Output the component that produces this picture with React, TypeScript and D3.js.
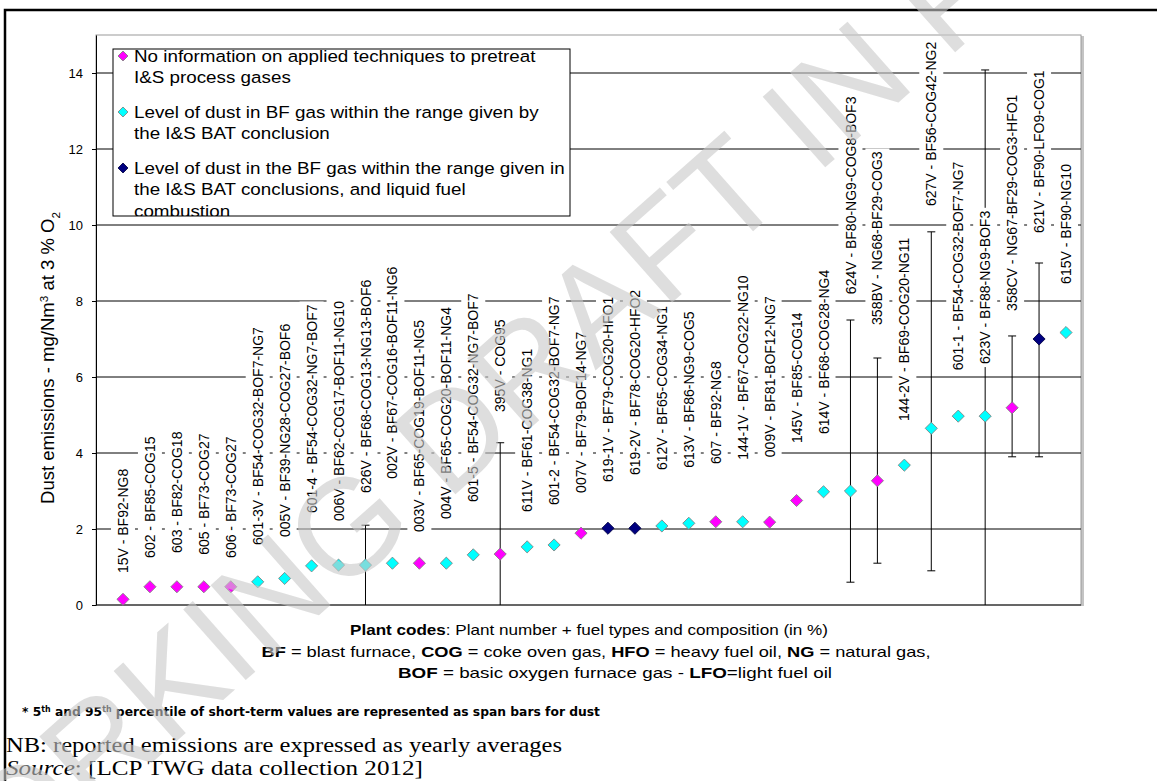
import React, { useEffect, useRef } from 'react';
import * as d3 from 'd3';

// Plant codes, in the order shown on the chart
const plants = [
  '15V - BF92-NG8', '602 - BF85-COG15', '603 - BF82-COG18', '605 - BF73-COG27', '606 - BF73-COG27',
  '601-3V - BF54-COG32-BOF7-NG7', '005V - BF39-NG28-COG27-BOF6', '601-4 - BF54-COG32-NG7-BOF7',
  '006V - BF62-COG17-BOF11-NG10', '626V - BF68-COG13-NG13-BOF6', '002V - BF67-COG16-BOF11-NG6',
  '003V - BF65-COG19-BOF11-NG5', '004V - BF65-COG20-BOF11-NG4', '601-5 - BF54-COG32-NG7-BOF7',
  '395V - COG95', '611V - BF61-COG38-NG1', '601-2 - BF54-COG32-BOF7-NG7', '007V - BF79-BOF14-NG7',
  '619-1V - BF79-COG20-HFO1', '619-2V - BF78-COG20-HFO2', '612V - BF65-COG34-NG1', '613V - BF86-NG9-COG5',
  '607 - BF92-NG8', '144-1V - BF67-COG22-NG10', '009V - BF81-BOF12-NG7', '145V - BF85-COG14',
  '614V - BF68-COG28-NG4', '624V - BF80-NG9-COG8-BOF3', '358BV - NG68-BF29-COG3', '144-2V - BF69-COG20-NG11',
  '627V - BF56-COG42-NG2', '601-1 - BF54-COG32-BOF7-NG7', '623V - BF88-NG9-BOF3', '358CV - NG67-BF29-COG3-HFO1',
  '621V - BF90-LFO9-COG1', '615V - BF90-NG10',
];

// yearly average dust, mg/Nm3 at 3 % O2
const dust = [
  0.15, 0.48, 0.48, 0.48, 0.48, 0.61, 0.7, 1.03, 1.05, 1.05, 1.1, 1.1, 1.1, 1.32, 1.34, 1.53, 1.58, 1.89,
  2.02, 2.02, 2.08, 2.15, 2.19, 2.19, 2.18, 2.75, 2.98, 3.0, 3.27, 3.68, 4.65, 4.97, 4.97, 5.19, 7.0, 7.17,
];

// n = no information, b = within BAT range, l = within BAT range + liquid fuel
const group = [
  'n', 'n', 'n', 'n', 'n', 'b', 'b', 'b', 'b', 'b', 'b', 'n', 'b', 'b', 'n', 'b', 'b', 'n',
  'l', 'l', 'b', 'b', 'n', 'b', 'n', 'n', 'b', 'b', 'n', 'b', 'b', 'b', 'b', 'n', 'l', 'b',
];

// 5th / 95th percentile span bars (null = not reported)
const spanLow: (number | null)[] = [
  null, null, null, null, null, null, null, null, null, 0, null, null, null, null, 0, null, null, null,
  null, null, null, null, null, null, null, null, null, 0.6, 1.1, null, 0.9, null, 0, 3.9, 3.9, null,
];
const spanHigh: (number | null)[] = [
  null, null, null, null, null, null, null, null, null, 2.1, null, null, null, null, 4.27, null, null, null,
  null, null, null, null, null, null, null, null, null, 7.5, 6.5, null, 9.82, null, 14.08, 7.08, 9.0, null,
];

// where each plant label starts (value on the y axis)
const labelBase = [
  0.84, 1.24, 1.37, 1.32, 1.24, 1.58, 1.79, 2.42, 2.21, 2.95, 3.32, 1.92, 2.26, 2.71, 5.08, 2.45, 2.63, 2.95,
  3.24, 3.42, 3.55, 3.61, 3.71, 3.82, 3.89, 4.26, 4.5, 8.18, 7.37, 4.84, 10.5, 6.18, 6.34, 7.74, 9.79, 8.45,
];

const yTicks = [0, 2, 4, 6, 8, 10, 12, 14];

const groupColor: Record<string, string> = { n: '#ff00ff', b: '#00ffff', l: '#000080' };
const groupStroke: Record<string, string> = { n: '#7f7f7f', b: '#7f7f7f', l: '#000040' };

const legendGroups = ['n', 'b', 'l'];
const legendLines = [
  ['No information on applied techniques to pretreat', 'I&S process gases'],
  ['Level of dust in BF gas within the range given by', 'the I&S BAT conclusion'],
  ['Level of dust in the BF gas within the range given in', 'the I&S BAT conclusions, and liquid fuel', 'combustion'],
];

const SANS = 'Arial, "Liberation Sans", sans-serif';
const SERIF = '"Times New Roman", "Liberation Serif", Times, "Noto Serif", serif';

export default function App() {
  const ref = useRef<SVGSVGElement | null>(null);

  useEffect(() => {
    const svg = d3.select(ref.current);
    svg.selectAll('*').remove();

    const m = { left: 96, right: 1081, top: 35, bottom: 605 };
    const y = d3.scaleLinear().domain([0, 15]).range([m.bottom, m.top]);
    const x = d3.scalePoint<string>().domain(plants).range([m.left + 27, m.right - 15]);

    // outer frame
    svg.append('rect')
      .attr('x', 5).attr('y', 10).attr('width', 1300).attr('height', 900)
      .attr('fill', 'none').attr('stroke', '#000').attr('stroke-width', 2.5);

    // plot area with a little shadow on the right
    svg.append('rect')
      .attr('x', m.right).attr('y', m.top + 1).attr('width', 3).attr('height', m.bottom - m.top)
      .attr('fill', '#c4c4c4');
    svg.append('rect')
      .attr('x', m.left).attr('y', m.top).attr('width', m.right - m.left).attr('height', m.bottom - m.top)
      .attr('fill', '#fff').attr('stroke', '#9a9a9a').attr('stroke-width', 1);

    svg.append('g')
      .selectAll('line')
      .data(yTicks.filter(t => t > 0))
      .join('line')
      .attr('x1', m.left).attr('x2', m.right)
      .attr('y1', d => y(d)).attr('y2', d => y(d))
      .attr('stroke', '#000').attr('stroke-width', 1);

    svg.append('line')
      .attr('x1', m.left).attr('x2', m.right).attr('y1', m.bottom).attr('y2', m.bottom)
      .attr('stroke', '#000');

    const yAxis = svg.append('g')
      .attr('transform', `translate(${m.left},0)`)
      .call(d3.axisLeft(y).tickValues(yTicks).tickSize(4).tickSizeOuter(0).tickPadding(9).tickFormat(d3.format('d')));
    yAxis.select('.domain').attr('stroke', '#000');
    yAxis.selectAll('.tick line').attr('stroke', '#000');
    yAxis.selectAll('.tick text')
      .attr('font-family', SANS).attr('font-size', 13).attr('fill', '#000');

    // y title
    const yt = svg.append('text')
      .attr('transform', 'translate(48,358) rotate(-90)')
      .attr('text-anchor', 'middle').attr('dy', '0.35em')
      .attr('font-family', SANS).attr('font-size', 17.5).attr('fill', '#000')
      .attr('textLength', 292).attr('lengthAdjust', 'spacingAndGlyphs');
    yt.append('tspan').text('Dust emissions - mg/Nm');
    yt.append('tspan').attr('baseline-shift', 'super').attr('font-size', 11).text('3');
    yt.append('tspan').text(' at 3 % O');
    yt.append('tspan').attr('baseline-shift', 'sub').attr('font-size', 11).text('2');

    // span bars
    const bars = svg.append('g').attr('stroke', '#000').attr('stroke-width', 1);
    plants.forEach((p, i) => {
      const lo = spanLow[i];
      const hi = spanHigh[i];
      if (lo === null || hi === null) return;
      const cx = x(p)!;
      bars.append('line').attr('x1', cx).attr('x2', cx).attr('y1', y(lo)).attr('y2', y(hi));
      bars.append('line').attr('x1', cx - 4).attr('x2', cx + 4).attr('y1', y(hi)).attr('y2', y(hi));
      if (lo > 0) bars.append('line').attr('x1', cx - 4).attr('x2', cx + 4).attr('y1', y(lo)).attr('y2', y(lo));
    });

    // plant labels on white boxes
    const labels = svg.append('g');
    plants.forEach((p, i) => {
      const g = labels.append('g')
        .attr('transform', `translate(${x(p)},${y(labelBase[i])}) rotate(-90)`);
      const box = g.append('rect').attr('fill', '#fff');
      const t = g.append('text')
        .attr('dy', '0.36em')
        .attr('font-family', SANS).attr('font-size', 14).attr('fill', '#000')
        .text(p);
      const len = (t.node() as SVGTextElement).getComputedTextLength();
      box.attr('x', -3).attr('y', -12).attr('width', len + 6).attr('height', 24);
    });

    // markers
    const diamond = d3.symbol().type(d3.symbolSquare).size(74);
    svg.append('g')
      .selectAll('path')
      .data(plants)
      .join('path')
      .attr('d', diamond()!)
      .attr('transform', (p, i) => `translate(${x(p)},${y(dust[i])}) rotate(45)`)
      .attr('fill', (p, i) => groupColor[group[i]])
      .attr('stroke', (p, i) => groupStroke[group[i]])
      .attr('stroke-width', 0.8);

    // legend
    const lg = { x: 113, y: 49, w: 457, h: 167 };
    const defs = svg.append('defs');
    defs.append('clipPath').attr('id', 'legclip')
      .append('rect').attr('x', lg.x).attr('y', lg.y).attr('width', lg.w).attr('height', lg.h);
    svg.append('rect')
      .attr('x', lg.x).attr('y', lg.y).attr('width', lg.w).attr('height', lg.h)
      .attr('fill', '#fff').attr('stroke', '#000').attr('stroke-width', 1);
    const legend = svg.append('g').attr('clip-path', 'url(#legclip)');
    const legDiamond = d3.symbol().type(d3.symbolSquare).size(50);
    let ly = lg.y + 7;
    legendGroups.forEach((gk, gi) => {
      legend.append('path')
        .attr('d', legDiamond()!)
        .attr('transform', `translate(${lg.x + 10},${ly}) rotate(45)`)
        .attr('fill', groupColor[gk]).attr('stroke', groupStroke[gk]).attr('stroke-width', 0.8);
      legendLines[gi].forEach((line, li) => {
        legend.append('text')
          .attr('transform', `translate(${lg.x + 21},${ly + li * 21.5}) scale(1.14,1)`)
          .attr('dy', '0.36em')
          .attr('font-family', SANS).attr('font-size', 16.5).attr('fill', '#000')
          .text(line);
      });
      ly += legendLines[gi].length * 21.5 + 13;
    });

    // footer text
    const foot = svg.append('g').attr('font-family', SANS).attr('fill', '#000').style('white-space', 'pre');
    const richLine = (parts: [string, boolean][], cx: number, cy: number, len: number, size: number) => {
      const t = foot.append('text')
        .attr('x', cx).attr('y', cy).attr('dy', '0.36em')
        .attr('text-anchor', 'middle').attr('font-size', size)
        .attr('textLength', len).attr('lengthAdjust', 'spacingAndGlyphs');
      parts.forEach(([s, b]) => t.append('tspan').attr('font-weight', b ? 'bold' : 'normal').text(s));
    };
    richLine([['Plant codes', true], [': Plant number  + fuel types and composition (in %)', false]], 589, 630, 478, 15);
    richLine([
      ['BF', true], [' = blast furnace,  ', false], ['COG', true], [' = coke oven gas, ', false],
      ['HFO', true], [' = heavy fuel oil, ', false], ['NG', true], [' = natural gas,', false],
    ], 596, 652, 669, 15);
    richLine([['BOF', true], [' = basic oxygen furnace gas - ', false], ['LFO', true], ['=light fuel oil', false]], 615, 673, 434, 15);

    const note = svg.append('text')
      .attr('x', 22).attr('y', 711).attr('dy', '0.36em')
      .attr('font-family', '"Liberation Sans Narrow", "DejaVu Sans Condensed", Arial, sans-serif')
      .attr('font-weight', 'bold').attr('font-size', 12.5).attr('fill', '#000')
      .attr('textLength', 578).attr('lengthAdjust', 'spacingAndGlyphs');
    note.append('tspan').text('* 5');
    note.append('tspan').attr('baseline-shift', 'super').attr('font-size', 8).text('th');
    note.append('tspan').text(' and 95');
    note.append('tspan').attr('baseline-shift', 'super').attr('font-size', 8).text('th');
    note.append('tspan').text(' percentile of short-term values are represented as span bars for dust');

    svg.append('text')
      .attr('x', 6).attr('y', 745).attr('dy', '0.33em')
      .attr('font-family', SERIF).attr('font-size', 20).attr('fill', '#000')
      .attr('textLength', 556).attr('lengthAdjust', 'spacingAndGlyphs')
      .text('NB: reported emissions are expressed as yearly averages');
    const src = svg.append('text')
      .attr('x', 6).attr('y', 768).attr('dy', '0.33em')
      .attr('font-family', SERIF).attr('font-size', 20).attr('fill', '#000')
      .attr('textLength', 417).attr('lengthAdjust', 'spacingAndGlyphs');
    src.append('tspan').attr('font-style', 'italic').text('Source');
    src.append('tspan').text(': [LCP TWG data collection 2012]');

    // draft watermark on top
    svg.append('text')
      .attr('transform', 'translate(690,221) rotate(-41.5)')
      .attr('text-anchor', 'middle').attr('dy', '0.36em')
      .attr('font-family', SANS).attr('font-size', 137)
      .attr('fill', '#c8c8c8').attr('fill-opacity', 0.6)
      .text('WORKING DRAFT IN PROGRESS');
  }, []);

  return (
    <svg
      ref={ref}
      width={1157}
      height={781}
      style={{ position: 'absolute', left: 0, top: 0, display: 'block', background: '#fff' }}
    />
  );
}
